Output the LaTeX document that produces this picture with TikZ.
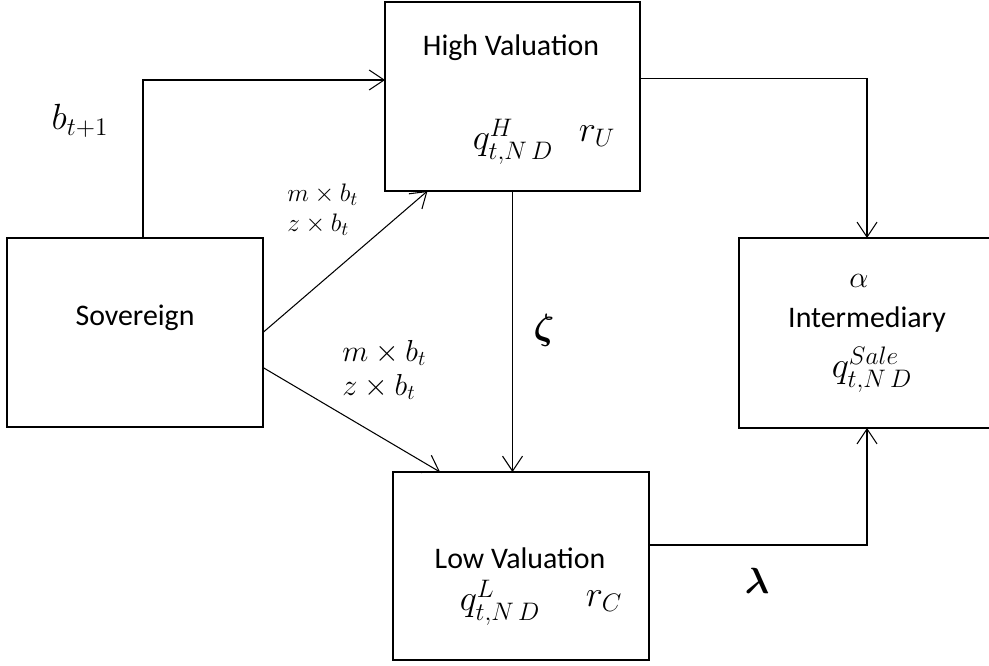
\documentclass[tikz,border=0pt]{standalone}
\usepackage[no-math]{fontspec}
\setmainfont{Carlito}
\usepackage{amsmath}
\usetikzlibrary{arrows.meta,calc}

\begin{document}
\begin{tikzpicture}[
  x=0.02cm, y=-0.02cm,
  box/.style={draw, line width=0.7pt, inner sep=0pt, outer sep=0pt},
  link/.style={line width=0.6pt, -{Straight Barb[length=3mm, width=4mm]}},
  boxtext/.style={font=\fontsize{17}{20}\selectfont, inner sep=0pt},
  mathtext/.style={font=\fontsize{20}{24}\selectfont, inner sep=0pt},
  flowlabel/.style={align=left, inner sep=0pt, anchor=west}
]
\useasboundingbox (0,0) rectangle (989,665);

% ---------- boxes ----------
\node[box, minimum width=5.12cm, minimum height=3.78cm] (sov)   at (135,332.5) {};
\node[box, minimum width=5.10cm, minimum height=3.78cm] (high)  at (512.5,96.5) {};
\node[box, minimum width=5.12cm, minimum height=3.76cm] (low)   at (521,566) {};
% right side runs past the page edge
\node[box, minimum width=5.12cm, minimum height=3.80cm] (inter) at (867,333) {};

% ---------- box contents ----------
\node[boxtext] (sovname)   at (135,318) {Sovereign};
\node[boxtext] (highname)  at (511,48)  {High Valuation};
\node[boxtext] (lowname)   at (520,558) {Low Valuation};
\node[boxtext] (intername) at (867,320) {Intermediary};

\node[mathtext] (qhigh)  at (513,142) {$q^{H}_{t,N\,D}$};
\node[mathtext] (rup)    at (597,136) {$r_U$};
\node[mathtext, font=\fontsize{21}{25}\selectfont] (qlow) at (500,603) {$q^{L}_{t,N\,D}$};
\node[mathtext] (rcap)   at (604,601) {$r_C$};
\node[mathtext, font=\fontsize{18}{22}\selectfont] (alpha) at (859,281) {$\alpha$};
\node[mathtext] (qsale)  at (872,370) {$q^{Sale}_{t,N\,D}$};

% ---------- connectors ----------
\coordinate (turn) at (143,80);
\draw[link] (sov.north -| turn) |- (high.west |- turn);
\draw[link] (sov.east) -- ($(high.south)+(-85,0)$);
\draw[link] ($(sov.east)+(0,35)$) -- ($(low.north)+(-81,0)$);
\draw[link] (high.south) -- (high.south |- low.north);
\draw[link] ($(high.east)+(0,-18)$) -| (inter.north);
\draw[link] ($(low.east)+(0,-21)$) -| (inter.south);

% ---------- labels ----------
\node[mathtext, font=\fontsize{21}{25}\selectfont] (bnext) at (80,121) {$b_{t+1}$};
\node[flowlabel, font=\fontsize{15}{17}\selectfont] (upflow) at (287,210)
  {$m\times b_t$\\$z\times b_t$};
\node[flowlabel, font=\fontsize{17.5}{19.5}\selectfont] (downflow) at (342,370)
  {$m\times b_t$\\$z\times b_t$};
\node[mathtext, font=\fontsize{22}{26}\selectfont] (zeta) at (544,330) {$\boldsymbol{\zeta}$};
\node[mathtext, font=\fontsize{20}{24}\selectfont] (lambda) at (757,581) {$\boldsymbol{\lambda}$};
\end{tikzpicture}
\end{document}
